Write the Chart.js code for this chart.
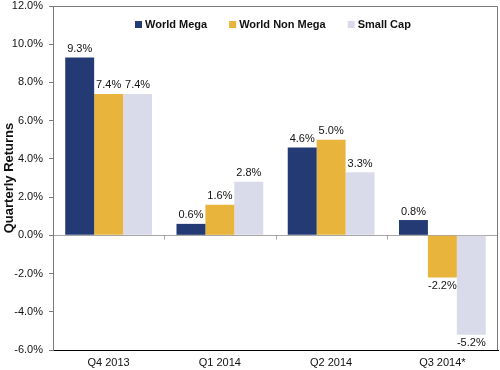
<!DOCTYPE html>
<html>
<head>
<meta charset="utf-8">
<script src="https://cdn.jsdelivr.net/npm/chart.js@4.4.1/dist/chart.umd.min.js"></script>
<style>
  html, body { margin: 0; padding: 0; background: #fff; }
  #wrap { width: 500px; height: 370px; position: relative; }
</style>
</head>
<body>
<div id="wrap"><canvas id="chart"></canvas></div>
<script>
// datos del gráfico
const quarters = ["Q4 2013", "Q1 2014", "Q2 2014", "Q3 2014*"];
const worldMega = [9.3, 0.6, 4.6, 0.8];
const worldNonMega = [7.4, 1.6, 5.0, -2.2];
const smallCap = [7.4, 2.8, 3.3, -5.2];
const seriesNames = ["World Mega", "World Non Mega", "Small Cap"];
const yTicks = [-6, -4, -2, 0, 2, 4, 6, 8, 10, 12];

const FONT = "'Liberation Sans', Arial, sans-serif";

// etiquetas de valor sobre / bajo cada barra
const valueLabels = {
  id: "valueLabels",
  afterDatasetsDraw(chart) {
    const ctx = chart.ctx;
    ctx.save();
    ctx.font = "11px " + FONT;
    ctx.fillStyle = "#111";
    ctx.textAlign = "center";
    chart.data.datasets.forEach((ds, i) => {
      const meta = chart.getDatasetMeta(i);
      meta.data.forEach((bar, j) => {
        const v = ds.data[j];
        const txt = v.toFixed(1) + "%";
        if (v >= 0) {
          ctx.textBaseline = "bottom";
          ctx.fillText(txt, bar.x, bar.y - 3);
        } else {
          ctx.textBaseline = "top";
          ctx.fillText(txt, bar.x, bar.y + 3);
        }
      });
    });
    ctx.restore();
  },
};

// leyenda dentro del área del gráfico
const innerLegend = {
  id: "innerLegend",
  afterDraw(chart) {
    const { ctx, chartArea: a } = chart;
    const box = 7, gapText = 3, gapItem = 22;
    ctx.save();
    ctx.font = "bold 11px " + FONT;
    const items = chart.data.datasets.map((ds) => ({
      text: ds.label,
      color: ds.backgroundColor,
      w: box + gapText + ctx.measureText(ds.label).width,
    }));
    const total = items.reduce((s, it) => s + it.w, 0) + gapItem * (items.length - 1);
    let x = Math.round((a.left + a.right) / 2 - total / 2 - 3);
    const y = a.top + 18;
    ctx.textBaseline = "middle";
    ctx.textAlign = "left";
    items.forEach((it) => {
      ctx.fillStyle = it.color;
      ctx.fillRect(x, y - 3, box, box);
      ctx.fillStyle = "#111";
      ctx.fillText(it.text, x + box + gapText, y + 1);
      x += it.w + gapItem;
    });
    ctx.restore();
  },
};

// marco del área y marcas en la línea cero
const frame = {
  id: "frame",
  beforeDatasetsDraw(chart) {
    const { ctx, chartArea: a, scales } = chart;
    ctx.save();
    ctx.strokeStyle = "#7a7a7a";
    ctx.lineWidth = 1;
    ctx.beginPath();
    ctx.moveTo(a.left, a.top + 0.5);
    ctx.lineTo(a.right - 0.5, a.top + 0.5);
    ctx.lineTo(a.right - 0.5, a.bottom);
    ctx.stroke();
    // marcas entre categorías
    const y0 = Math.round(scales.y.getPixelForValue(0)) + 0.5;
    ctx.strokeStyle = "#a6a6a6";
    ctx.beginPath();
    for (let i = 1; i < quarters.length; i++) {
      const x = Math.round((scales.x.getPixelForValue(i - 1) + scales.x.getPixelForValue(i)) / 2) + 0.5;
      ctx.moveTo(x, y0);
      ctx.lineTo(x, y0 + 4);
    }
    ctx.stroke();
    ctx.restore();
  },
};

function initChart() {
  const ctx = document.getElementById("chart").getContext("2d");
  const colors = ["#243a74", "#e8b43c", "#d9dbea"];
  const values = [worldMega, worldNonMega, smallCap];

  new Chart(ctx, {
    type: "bar",
    data: {
      labels: quarters,
      datasets: seriesNames.map((name, i) => ({
        label: name,
        data: values[i],
        backgroundColor: colors[i],
        borderWidth: 0,
        categoryPercentage: 0.78,
        barPercentage: 1.0,
      })),
    },
    options: {
      responsive: true,
      maintainAspectRatio: false,
      animation: false,
      layout: { padding: { top: 6, right: 2, bottom: 0, left: 0 } },
      plugins: {
        legend: { display: false },
        tooltip: { enabled: false },
      },
      scales: {
        x: {
          grid: { display: false, drawTicks: false },
          border: { color: "#000", width: 1 },
          ticks: {
            color: "#111",
            padding: 6,
            font: { family: FONT, size: 11 },
          },
          afterFit(scale) {
            scale.height = 20;
          },
        },
        y: {
          min: -6,
          max: 12,
          afterBuildTicks(scale) {
            scale.ticks = yTicks.map((v) => ({ value: v }));
          },
          grid: {
            drawOnChartArea: true,
            drawTicks: true,
            tickLength: 4,
            tickColor: "#7a7a7a",
            color: (c) => (c.tick && c.tick.value === 0 ? "#a6a6a6" : "rgba(0,0,0,0)"),
          },
          border: { color: "#7a7a7a", width: 1 },
          ticks: {
            color: "#111",
            padding: 6,
            font: { family: FONT, size: 11 },
            callback: (v) => v.toFixed(1) + "%",
          },
          title: {
            display: true,
            text: "Quarterly Returns",
            color: "#111",
            padding: { top: 2, bottom: 0 },
            font: { family: FONT, size: 13, weight: "bold" },
          },
          afterFit(scale) {
            scale.width = 53;
            // sin margen extra arriba / abajo por las etiquetas
            scale.paddingTop = 0;
            scale.paddingBottom = 0;
          },
        },
      },
    },
    plugins: [frame, valueLabels, innerLegend],
  });
}

document.addEventListener("DOMContentLoaded", initChart);
</script>
</body>
</html>
